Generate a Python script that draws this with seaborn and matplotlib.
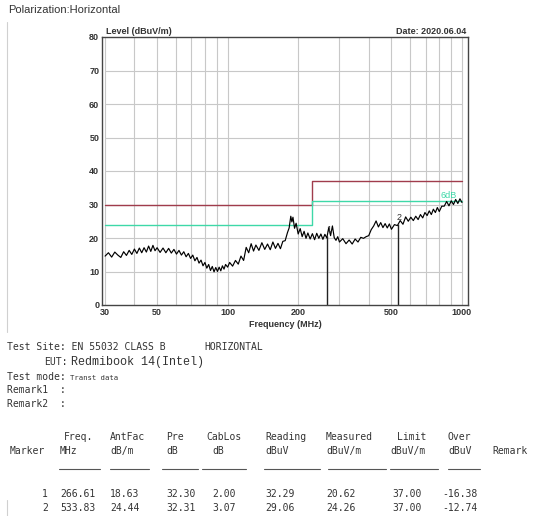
import numpy as np
import pandas as pd
import matplotlib
matplotlib.use('Agg')
import matplotlib.pyplot as plt
from matplotlib.lines import Line2D
import seaborn as sns

# Scan trace (MHz, dBuV/m)
scan_freq = [30, 31, 32, 33, 34, 35, 36, 37, 38, 39, 40, 41, 42, 43, 44, 45, 46, 47, 48, 49, 50,
             51.5, 53, 54.5, 56, 57.5, 59, 60.5, 62, 63.5, 65, 66.5, 68, 69.5, 71, 72.5, 74, 75.5,
             77, 78.5, 80, 81.5, 83, 84.5, 86, 87.5, 89, 90.5, 92, 93.5, 95, 96.5, 98, 100,
             102, 105, 108, 111, 114, 117, 120, 123, 126, 129, 132, 136, 140, 144, 148,
             152, 156, 160, 164, 168, 172, 176, 180, 183, 186, 188, 190, 193, 196, 200,
             204, 208, 212, 216, 220, 225, 230, 235, 240, 245, 250, 255, 260, 265, 270,
             275, 280, 285, 290, 295, 300,
             310, 320, 330, 340, 350, 360, 370, 380, 390, 400, 410, 420, 430, 440, 450,
             460, 470, 480, 490, 500,
             515, 530, 545, 560, 575, 590, 605, 620, 635, 650, 665, 680, 695, 710, 725,
             740, 755, 770, 785, 800, 820, 840, 860, 880, 900, 920, 940, 960, 980, 1000]
scan_level = [14.6, 15.6, 14.3, 15.8, 14.9, 14.2, 15.9, 14.8, 16.3, 15.1, 16.7, 15.4, 17.0, 15.6,
              17.1, 15.8, 17.6, 16.0, 17.8, 16.2, 17.1,
              15.7, 17.0, 15.6, 16.9, 15.5, 16.6, 15.2, 16.3, 14.9, 15.9, 14.4, 15.4, 13.9, 14.9,
              13.2, 14.2, 12.5, 13.4, 11.7, 12.7, 11.0, 12.1, 10.3, 11.5, 9.9, 11.2, 10.0, 11.3,
              10.2, 11.7, 10.7, 12.1, 11.3,
              12.7, 11.6, 13.3, 12.2, 14.6, 13.3, 17.2, 15.6, 18.3, 16.1, 17.9, 16.3, 18.6, 16.6,
              18.2, 16.5, 18.8, 16.9, 18.4, 16.8, 19.0, 19.2, 21.6, 23.0, 26.5, 24.8, 26.2, 22.9,
              24.4, 21.2,
              22.8, 20.4, 22.0, 19.9, 21.5, 19.7, 21.3, 19.5, 21.4, 19.9, 21.2, 19.6, 21.1, 20.0,
              23.1, 20.7, 23.6, 20.1, 19.3, 20.4, 18.8,
              19.8, 18.3, 19.4, 18.2, 19.7, 18.8, 20.2, 19.9, 20.4, 20.7, 22.5, 23.6, 25.1, 23.3,
              24.6, 23.1, 24.3, 23.0, 24.2, 22.6,
              24.0, 23.7, 25.2, 24.1, 26.3, 25.0, 26.2, 25.2, 26.5, 25.5, 27.0, 26.0, 27.6, 26.7,
              28.1, 27.0, 28.6, 27.6, 29.1, 27.9, 29.5, 29.5, 30.9, 29.6, 31.1, 30.0, 31.5, 30.3,
              31.7, 30.6]

# EN 55032 class B limit and the -6 dB margin line
limit_freq = [30, 230, 1000]
limit_level = [30, 37, 37]
margin_level = [24, 31, 31]

# marker table
marker_no = [1, 2]
marker_freq = [266.61, 533.83]
ant_fac = [18.63, 24.44]
pre_amp = [32.30, 32.31]
cab_los = [2.00, 3.07]
reading = [32.29, 29.06]
measured = [20.62, 24.26]
limit_val = [37.00, 37.00]
over = [-16.38, -12.74]

x_ticks = [30, 50, 100, 200, 500, 1000]
x_minor = [40, 60, 70, 80, 90, 300, 400, 600, 700, 800, 900]
y_ticks = [0, 10, 20, 30, 40, 50, 60, 70, 80]

W, H = 550, 516
RED = '#a03c4c'
GREEN = '#3ed8a8'
GRID = '#c8c8c8'

sns.set_style('white')
plt.rcParams['font.family'] = ['Liberation Sans', 'DejaVu Sans']

fig = plt.figure(figsize=(W / 100, H / 100), dpi=100)
ax = fig.add_axes([102 / W, 1 - 305 / H, 366 / W, 268 / H])
ax.set_xscale('log')

scan = pd.DataFrame({'freq': scan_freq, 'level': scan_level})
limits = pd.DataFrame({'freq': limit_freq, 'limit': limit_level, 'margin': margin_level})

sns.lineplot(data=limits, x='freq', y='limit', ax=ax, color=RED, lw=1.0,
             drawstyle='steps-post', estimator=None)
sns.lineplot(data=limits, x='freq', y='margin', ax=ax, color=GREEN, lw=1.0,
             drawstyle='steps-post', estimator=None)
sns.lineplot(data=scan, x='freq', y='level', ax=ax, color='black', lw=0.85, estimator=None)

ax.vlines(marker_freq, 0, measured, color='#222222', lw=1.0)
for n, f, m in zip(marker_no, marker_freq, measured):
    ax.text(f * 1.01, m + 0.6, str(n), fontsize=6.5, color='#333333', ha='center', va='bottom')
ax.text(880, 31.2, '6dB', fontsize=6.5, color=GREEN, ha='center', va='bottom')

ax.set_xlim(29.1, 1061)
ax.set_ylim(0, 80)
ax.set_xticks(x_ticks)
ax.set_xticks(x_minor, minor=True)
ax.set_xticklabels([str(t) for t in x_ticks])
ax.set_yticks(y_ticks)
ax.tick_params(axis='both', which='both', length=0, labelsize=6.5, pad=2)
for lab in ax.get_xticklabels() + ax.get_yticklabels():
    lab.set_fontweight('bold')
    lab.set_color('#333333')
ax.grid(axis='x', which='both', color=GRID, lw=0.8)
ax.hlines(y_ticks[1:-1], x_ticks[0], x_ticks[-1], color=GRID, lw=0.8, zorder=0)
ax.set_axisbelow(True)
for s in ax.spines.values():
    s.set_color('#444444')
    s.set_linewidth(1.0)
ax.set_xlabel('Frequency (MHz)', fontsize=6.5, fontweight='bold', color='#333333', labelpad=2)
ax.set_ylabel('')
ax.text(0.01, 1.005, 'Level (dBuV/m)', transform=ax.transAxes, fontsize=6.5,
        fontweight='bold', color='#333333', ha='left', va='bottom')
ax.text(0.995, 1.005, 'Date: 2020.06.04', transform=ax.transAxes, fontsize=6.5,
        fontweight='bold', color='#333333', ha='right', va='bottom')


def put(x, y, s, **kw):
    fig.text(x / W, 1 - y / H, s, va='center', **kw)


put(8, 10, 'Polarization:Horizontal', fontsize=8, color='#333333')
fig.add_artist(Line2D([7 / W, 7 / W], [1 - 22 / H, 1 - 332 / H], color='#d0d0d0', lw=0.8))
fig.add_artist(Line2D([7 / W, 7 / W], [1 - 500 / H, 0], color='#d0d0d0', lw=0.8))

mono = dict(family='DejaVu Sans Mono', fontsize=7.0, color='#333333')
put(7, 347, 'Test Site: EN 55032 CLASS B', **mono)
put(204, 347, 'HORIZONTAL', **mono)
put(68, 362, 'EUT:', ha='right', **mono)
put(71, 362, 'Redmibook 14(Intel)', family='Liberation Mono', fontsize=8.5, color='#333333')
put(7, 377, 'Test mode:', **mono)
put(70, 378, 'Transt data', family='DejaVu Sans Mono', fontsize=5.2, color='#333333')
put(7, 390, 'Remark1  :', **mono)
put(7, 404, 'Remark2  :', **mono)

head1 = [(64, 'Freq.'), (110, 'AntFac'), (166, 'Pre'), (206, 'CabLos'), (265, 'Reading'),
         (326, 'Measured'), (397, 'Limit'), (448, 'Over')]
head2 = [(10, 'Marker'), (60, 'MHz'), (110, 'dB/m'), (166, 'dB'), (212, 'dB'), (265, 'dBuV'),
         (326, 'dBuV/m'), (390, 'dBuV/m'), (448, 'dBuV'), (492, 'Remark')]
for x, s in head1:
    put(x, 437, s, **mono)
for x, s in head2:
    put(x, 451, s, **mono)
for x0, x1 in [(59, 100), (110, 149), (162, 198), (202, 246), (264, 320), (328, 386),
               (390, 438), (448, 480)]:
    fig.add_artist(Line2D([x0 / W, x1 / W], [1 - 469 / H] * 2, color='#555555', lw=0.8))

cols = [60, 110, 166, 212, 265, 326, 392, 442]
for i, n in enumerate(marker_no):
    y = 494 + i * 14
    put(48, y, str(n), ha='right', **mono)
    vals = [marker_freq[i], ant_fac[i], pre_amp[i], cab_los[i], reading[i], measured[i],
            limit_val[i], over[i]]
    for x, v in zip(cols, vals):
        put(x, y, f'{v:.2f}', **mono)

fig.savefig('out.png', dpi=100, facecolor='white')
